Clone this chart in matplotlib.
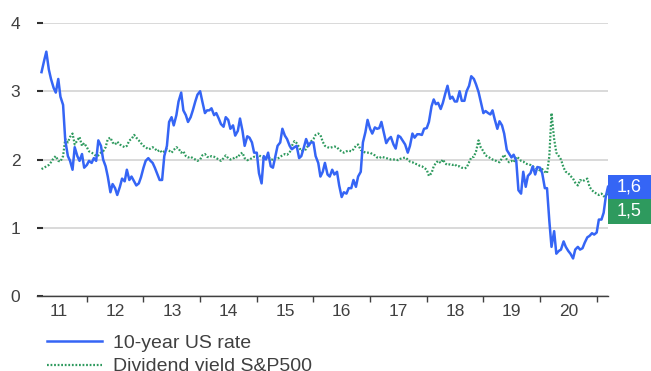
import matplotlib.pyplot as plt
import pandas as pd

plt.rcParams['font.family'] = ['Liberation Sans', 'DejaVu Sans']

# semi-monthly observations, 15 Mar 2011 .. 15 Mar 2021
dates = pd.date_range('2011-03-15', '2021-03-15', freq='SMS')

us10y_2011 = [3.28, 3.45, 3.58, 3.32, 3.18, 3.05, 2.98, 3.18, 2.92, 2.80, 2.28, 2.05, 1.98, 1.85, 2.18, 2.05, 1.98, 2.08, 1.88]
us10y_2012 = [1.92, 1.98, 1.95, 2.02, 1.98, 2.28, 2.20, 2.00, 1.90, 1.75, 1.52, 1.64, 1.58, 1.48, 1.60, 1.72, 1.68, 1.85, 1.70, 1.75, 1.68, 1.62, 1.65, 1.74]
us10y_2013 = [1.88, 1.98, 2.02, 1.98, 1.95, 1.88, 1.78, 1.70, 1.70, 2.05, 2.20, 2.55, 2.62, 2.50, 2.65, 2.85, 2.98, 2.72, 2.65, 2.55, 2.62, 2.72, 2.85, 2.95]
us10y_2014 = [3.00, 2.85, 2.68, 2.72, 2.72, 2.75, 2.65, 2.68, 2.60, 2.52, 2.48, 2.62, 2.58, 2.45, 2.50, 2.35, 2.42, 2.60, 2.42, 2.20, 2.34, 2.32, 2.25, 2.10]
us10y_2015 = [2.10, 1.80, 1.65, 2.05, 2.00, 2.10, 1.90, 1.88, 2.05, 2.20, 2.25, 2.45, 2.35, 2.30, 2.20, 2.15, 2.18, 2.20, 2.02, 2.05, 2.18, 2.30, 2.20, 2.25]
us10y_2016 = [2.25, 2.05, 1.95, 1.75, 1.82, 1.95, 1.78, 1.75, 1.85, 1.78, 1.82, 1.62, 1.45, 1.52, 1.50, 1.58, 1.58, 1.70, 1.60, 1.75, 1.82, 2.25, 2.40, 2.58]
us10y_2017 = [2.45, 2.38, 2.47, 2.45, 2.46, 2.55, 2.38, 2.24, 2.30, 2.33, 2.22, 2.16, 2.35, 2.33, 2.27, 2.22, 2.10, 2.20, 2.38, 2.32, 2.37, 2.37, 2.36, 2.45]
us10y_2018 = [2.46, 2.55, 2.78, 2.88, 2.81, 2.83, 2.74, 2.83, 2.97, 3.08, 2.89, 2.92, 2.85, 2.85, 3.00, 2.86, 2.86, 3.00, 3.08, 3.22, 3.18, 3.10, 2.99, 2.85]
us10y_2019 = [2.68, 2.71, 2.68, 2.66, 2.72, 2.59, 2.45, 2.56, 2.50, 2.38, 2.14, 2.09, 2.03, 2.07, 1.98, 1.55, 1.50, 1.82, 1.60, 1.76, 1.80, 1.90, 1.78, 1.89]
us10y_2020 = [1.88, 1.80, 1.58, 1.58, 1.10, 0.72, 0.95, 0.62, 0.66, 0.68, 0.80, 0.72, 0.66, 0.62, 0.55, 0.68, 0.72, 0.68, 0.70, 0.78, 0.86, 0.88, 0.92, 0.90]
us10y_2021 = [0.93, 1.12, 1.12, 1.22, 1.46, 1.60]

divy_2011 = [1.86, 1.88, 1.90, 1.92, 1.96, 2.02, 2.05, 1.98, 1.97, 2.05, 2.30, 2.25, 2.33, 2.38, 2.22, 2.28, 2.33, 2.20, 2.24]
divy_2012 = [2.18, 2.12, 2.10, 2.08, 2.05, 2.06, 2.10, 2.12, 2.18, 2.30, 2.32, 2.25, 2.22, 2.26, 2.22, 2.20, 2.18, 2.20, 2.28, 2.30, 2.36, 2.32, 2.28, 2.24]
divy_2013 = [2.20, 2.18, 2.15, 2.16, 2.18, 2.16, 2.12, 2.14, 2.10, 2.12, 2.15, 2.13, 2.10, 2.14, 2.18, 2.16, 2.10, 2.12, 2.05, 2.03, 2.04, 2.02, 2.00, 1.98]
divy_2014 = [2.00, 2.06, 2.08, 2.04, 2.03, 2.05, 2.04, 2.02, 2.00, 1.98, 2.02, 2.06, 2.02, 2.00, 2.01, 2.04, 2.03, 2.08, 2.10, 2.02, 1.99, 2.00, 2.02, 2.04]
divy_2015 = [2.03, 2.06, 2.04, 2.02, 2.02, 2.04, 2.00, 2.00, 2.02, 2.01, 2.04, 2.06, 2.08, 2.07, 2.10, 2.20, 2.27, 2.24, 2.18, 2.12, 2.14, 2.15, 2.22, 2.26]
divy_2016 = [2.30, 2.36, 2.38, 2.36, 2.26, 2.20, 2.18, 2.17, 2.18, 2.19, 2.18, 2.14, 2.12, 2.10, 2.12, 2.13, 2.12, 2.15, 2.20, 2.22, 2.14, 2.12, 2.10, 2.10]
divy_2017 = [2.10, 2.08, 2.06, 2.03, 2.02, 2.04, 2.03, 2.02, 2.01, 2.00, 2.00, 2.00, 1.99, 2.01, 2.02, 2.03, 2.00, 1.97, 1.96, 1.94, 1.93, 1.91, 1.90, 1.88]
divy_2018 = [1.85, 1.76, 1.80, 1.90, 1.95, 1.98, 1.95, 2.00, 1.94, 1.92, 1.93, 1.92, 1.93, 1.90, 1.90, 1.88, 1.87, 1.88, 1.96, 2.03, 2.04, 2.12, 2.28, 2.18]
divy_2019 = [2.12, 2.06, 2.04, 2.02, 2.00, 1.99, 1.97, 1.96, 2.02, 2.07, 2.00, 1.96, 1.98, 1.96, 2.04, 2.02, 1.98, 1.97, 1.94, 1.93, 1.92, 1.90, 1.88, 1.86]
divy_2020 = [1.84, 1.86, 1.82, 1.80, 2.05, 2.68, 2.30, 2.10, 2.05, 2.00, 1.88, 1.82, 1.80, 1.76, 1.72, 1.66, 1.62, 1.70, 1.68, 1.70, 1.72, 1.60, 1.55, 1.52]
divy_2021 = [1.50, 1.48, 1.50, 1.46, 1.48, 1.50]

us10y = (us10y_2011 + us10y_2012 + us10y_2013 + us10y_2014 + us10y_2015 + us10y_2016
         + us10y_2017 + us10y_2018 + us10y_2019 + us10y_2020 + us10y_2021)
divy = (divy_2011 + divy_2012 + divy_2013 + divy_2014 + divy_2015 + divy_2016
        + divy_2017 + divy_2018 + divy_2019 + divy_2020 + divy_2021)

years = list(range(2011, 2021))
year_labels = [str(y)[2:] for y in years]
last_labels = ['1,6', '1,5']

blue = '#3565f5'
green = '#2e9a5e'
txt = '#404040'

t = dates.year + (dates.dayofyear - 1) / 365.25

fig = plt.figure(figsize=(6.51, 3.71), dpi=100)
ax = fig.add_axes([37 / 651, 75 / 371, 571 / 651, 273 / 371])

ax.plot(t, us10y, color=blue, lw=1.8, label='10-year US rate', zorder=3)
ax.plot(t, divy, color=green, lw=1.6, dashes=(0.8, 0.8), label='Dividend yield S&P500', zorder=2)

ax.set_xlim(2011.12, t[-1])
ax.set_ylim(0, 4)

# year labels sit mid-year, small ticks on the year boundaries
ax.set_xticks([y + 0.5 for y in years])
ax.set_xticklabels(year_labels)
ax.set_xticks(years[1:] + [2021], minor=True)
ax.tick_params(axis='x', which='major', length=0, pad=6, labelsize=12.5, labelcolor=txt)
ax.tick_params(axis='x', which='minor', length=4, width=1, color=txt, direction='out')

ax.set_yticks([0, 1, 2, 3, 4])
ax.tick_params(axis='y', length=4, width=1.5, color='#303030', direction='in', pad=12,
               labelsize=12.5, labelcolor=txt)
ax.yaxis.grid(True, color='#d0d0d0', lw=1.1)
ax.set_axisbelow(True)

for s in ['top', 'right', 'left']:
    ax.spines[s].set_visible(False)
ax.spines['bottom'].set_color('#404040')
ax.spines['bottom'].set_linewidth(1)

# value boxes for the latest readings
bh = 0.36
bw = 43 / 571
yb = us10y[-1]
ax.add_patch(plt.Rectangle((1, yb - bh / 2), bw, bh, transform=ax.get_yaxis_transform(),
                           color=blue, clip_on=False, lw=0))
ax.add_patch(plt.Rectangle((1, yb - 3 * bh / 2), bw, bh, transform=ax.get_yaxis_transform(),
                           color=green, clip_on=False, lw=0))
ax.text(1 + bw / 2, yb, last_labels[0], transform=ax.get_yaxis_transform(),
        ha='center', va='center', color='white', fontsize=13)
ax.text(1 + bw / 2, yb - bh, last_labels[1], transform=ax.get_yaxis_transform(),
        ha='center', va='center', color='white', fontsize=13)

fig.legend(loc='upper left', bbox_to_anchor=(47 / 651, 37 / 371), frameon=False,
           fontsize=14, handlelength=2.85, handletextpad=0.55, labelspacing=0.32,
           borderpad=0, borderaxespad=0, labelcolor=txt)

fig.savefig('out.png', dpi=100)
